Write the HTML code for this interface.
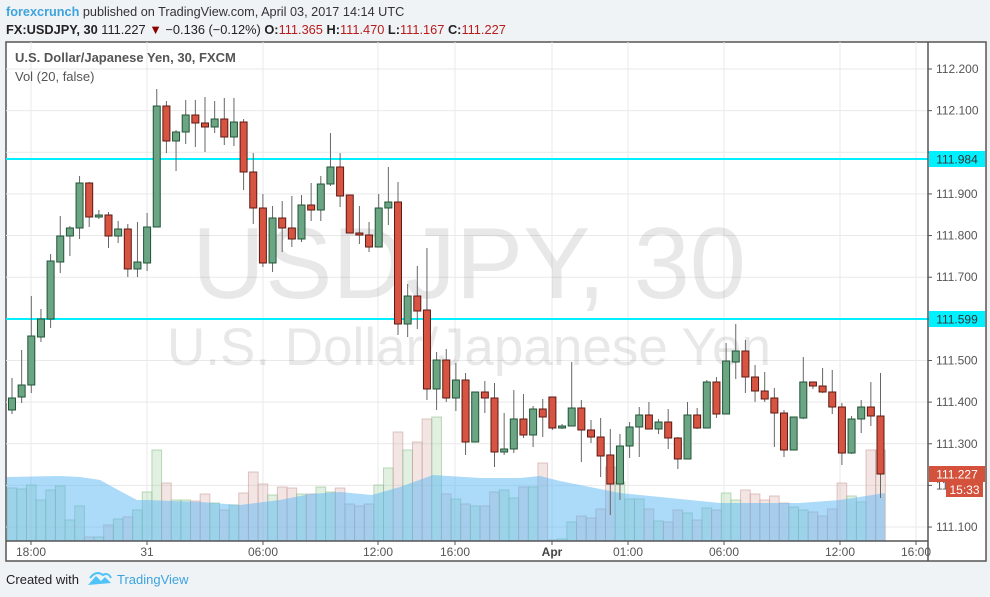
<!DOCTYPE html>
<html><head><meta charset="utf-8"><style>
body{margin:0;background:#f0f3f6;width:990px;height:597px;overflow:hidden;font-family:"Liberation Sans","DejaVu Sans",sans-serif}
svg{position:absolute;left:0;top:0}
</style></head><body>
<svg id="s" width="990" height="597" xmlns="http://www.w3.org/2000/svg">
<rect x="0" y="0" width="990" height="597" fill="#f0f3f6"/>
<text x="6" y="16" font-size="12.7" fill="#333"><tspan fill="#3ca3dd" font-weight="bold">forexcrunch</tspan> published on TradingView.com, April 03, 2017 14:14 UTC</text>
<text x="6" y="34" font-size="12.8" fill="#222"><tspan font-weight="bold">FX:USDJPY, 30</tspan> 111.227 <tspan fill="#8b0000">▼</tspan> −0.136 (−0.12%) <tspan font-weight="bold">O:</tspan><tspan fill="#b71c1c">111.365</tspan> <tspan font-weight="bold">H:</tspan><tspan fill="#b71c1c">111.470</tspan> <tspan font-weight="bold">L:</tspan><tspan fill="#b71c1c">111.167</tspan> <tspan font-weight="bold">C:</tspan><tspan fill="#b71c1c">111.227</tspan></text>
<rect x="6" y="42" width="980" height="519" fill="#fff" stroke="#555" stroke-width="1.5"/>
<g id="grid" stroke="#e9e9e9" stroke-width="1"></g>
<text x="469" y="298" font-size="101" fill="#000" fill-opacity="0.09" text-anchor="middle">USDJPY, 30</text>
<text x="469" y="365" font-size="53" fill="#000" fill-opacity="0.09" text-anchor="middle">U.S. Dollar/Japanese Yen</text>
<g id="vol"></g>
<path id="ma" fill="#5ab5f3" fill-opacity="0.5" d=""/>
<line x1="6" y1="159" x2="928" y2="159" stroke="#00f0ff" stroke-width="2"/>
<line x1="6" y1="319" x2="928" y2="319" stroke="#00f0ff" stroke-width="2"/>
<g id="cand"></g>
<line x1="928" y1="42" x2="928" y2="561" stroke="#555" stroke-width="1.5"/>
<line x1="6" y1="541" x2="928" y2="541" stroke="#555" stroke-width="1.5"/>
<g id="axis" font-size="12" fill="#555"></g>
<text x="15" y="62" font-size="13" fill="#555" font-weight="bold">U.S. Dollar/Japanese Yen, 30, FXCM</text>
<text x="15" y="81" font-size="13" fill="#555">Vol (20, false)</text>
<rect x="929" y="151" width="56" height="16" fill="#00f0ff"/>
<text x="957" y="163.5" font-size="12" fill="#333" text-anchor="middle">111.984</text>
<rect x="929" y="311" width="56" height="16" fill="#00f0ff"/>
<text x="957" y="323.5" font-size="12" fill="#333" text-anchor="middle">111.599</text>
<rect x="929" y="466" width="56" height="16" fill="#d4513b"/>
<text x="957" y="478.5" font-size="12" fill="#fff" text-anchor="middle">111.227</text>
<rect x="946" y="482" width="37" height="15" fill="#d4513b"/>
<text x="964.5" y="494" font-size="12" fill="#fff" text-anchor="middle">15:33</text>
<text x="6" y="584" font-size="13" fill="#222">Created with</text>
<path d="M88 585 l8 -9 l5 5 l4 -4 l6 6 z" fill="#4fc3f7"/>
<path d="M90 578 q6 -8 13 -3 q5 -3 8 3" fill="none" stroke="#4fc3f7" stroke-width="2"/>
<text x="117" y="584" font-size="13" fill="#3ca3dd">TradingView</text>
</svg>
<script>
var NS="http://www.w3.org/2000/svg";
function el(p,t,a){var e=document.createElementNS(NS,t);for(var k in a)e.setAttribute(k,a[k]);p.appendChild(e);return e;}
var grid=document.getElementById("grid"),axis=document.getElementById("axis");
for(var k=0;k<12;k++){var y=69+41.64*k;el(grid,"line",{x1:6,x2:928,y1:y,y2:y});
 var p=(112.2-0.1*k).toFixed(3);
 el(axis,"line",{x1:928,x2:932,y1:y,y2:y,stroke:"#555"});
 if(p!="112.000"){var t=el(axis,"text",{x:936,y:y+4});t.textContent=p;}}
var xs=[[31,"18:00"],[147,"31"],[263,"06:00"],[378,"12:00"],[455,"16:00"],[552,"Apr"],[628,"01:00"],[724,"06:00"],[840,"12:00"],[916,"16:00"]];
xs.forEach(function(a){el(grid,"line",{x1:a[0],x2:a[0],y1:42,y2:541});
 el(axis,"line",{x1:a[0],x2:a[0],y1:541,y2:545,stroke:"#555"});
 var t=el(axis,"text",{x:a[0],y:556,"text-anchor":"middle"});t.textContent=a[1];
 if(a[1]=="Apr"){t.setAttribute("font-weight","bold");t.setAttribute("fill","#444");}});
var C=[[410,398,378,414],[397,385,350,403],[385,336,296,393],[337,319,309,342],[319,261,254,328],[262,236,216,273],[236,228,226,256],[228,183,176,239],[183,217,182,227],[217,215,210,219],
[215,236,212,248],[236,229,221,243],[229,269,224,277],[269,262,222,277],[263,227,213,271],[227,106,89,227],[106,141,101,153],[141,132,130,171],[132,115,100,144],[115,123,100,147],
[123,127,97,152],[127,119,101,133],[119,137,98,145],[137,122,98,146],[122,172,119,190],[172,208,153,224],[208,263,194,267],[263,218,206,272],[218,228,201,252],[228,239,196,247],
[239,205,195,242],[205,210,183,221],[210,184,176,221],[184,167,133,186],[167,196,153,207],[195,233,195,233],[233,235,206,244],[235,247,222,252],[247,208,194,247],[208,202,167,225],
[202,324,182,335],[324,296,284,337],[296,311,266,329],[310,389,248,400],[389,360,352,410],[360,398,349,402],[398,380,363,411],[380,442,373,455],[442,392,392,442],[392,398,381,413],
[398,452,383,467],[452,449,413,455],[449,419,390,453],[419,435,394,438],[435,409,406,447],[409,417,399,437],[397,428,397,430],[428,426,424,429],[426,408,362,426],[408,430,400,462],
[430,437,420,443],[437,456,418,477],[455,484,429,515],[484,446,434,500],[446,427,422,458],[427,415,407,457],[415,429,402,429],[429,422,419,434],[422,438,409,449],[438,459,437,469],
[459,415,402,459],[415,428,408,429],[428,382,380,428],[382,414,377,418],[414,361,343,414],[362,351,324,379],[351,377,340,393],[377,391,365,402],[391,399,372,402],[398,413,388,447],
[413,450,410,457],[450,417,417,450],[418,382,357,419],[382,386,382,389],[386,392,368,393],[392,407,370,414],[407,453,403,465],[453,419,416,454],[419,407,400,433],[407,416,382,426],
[416,474,373,498]];
var V=[488,489,485,500,490,486,520,506,537,537,525,519,517,510,492,450,483,500,500,501,494,503,510,505,493,472,484,495,487,488,494,494,487,492,488,504,506,504,485,468,
432,450,442,419,417,494,499,504,506,506,492,490,498,487,487,463,540,539,522,516,518,509,467,482,499,499,509,521,522,510,513,520,508,510,493,500,490,494,500,496,503,507,510,512,516,509,483,496,502,450,450];
var cand=document.getElementById("cand"),vol=document.getElementById("vol"),dx=9.65;
C.forEach(function(c,i){var x=12+dx*i,up=c[1]<c[0];
 var fc=up?"#6ba583":"#d75442",sc=up?"#225437":"#5b1a13";
 el(cand,"line",{x1:x,x2:x,y1:c[2],y2:c[3],stroke:"#666","stroke-width":1});
 var t=Math.min(c[0],c[1]),h=Math.max(Math.abs(c[0]-c[1]),1.5);
 el(cand,"rect",{x:x-3.5,y:t,width:7,height:h,fill:fc,stroke:sc,"stroke-width":1});
 var v=V[i];
 el(vol,"rect",{x:x-dx/2,y:v,width:dx,height:541-v,fill:up?"#a9d3a9":"#d9b5b0","fill-opacity":0.35,stroke:up?"#8fbf8f":"#c9a19c","stroke-opacity":0.6,"stroke-width":1});
});
var M=[[7,477],[60,476],[80,477],[100,480],[120,491],[137,500],[147,500],[200,502],[240,505],[280,500],[310,494],[340,492],[372,495],[400,487],[433,475],[480,478],[520,478],[540,476],[560,481],[600,489],[620,493],[660,497],[720,503],[760,503],[800,503],[840,500],[885,493]];
var d="M7 541 ";M.forEach(function(p){d+="L"+p[0]+" "+p[1]+" ";});d+="L885 541 Z";
document.getElementById("ma").setAttribute("d",d);
</script>
</body></html>
